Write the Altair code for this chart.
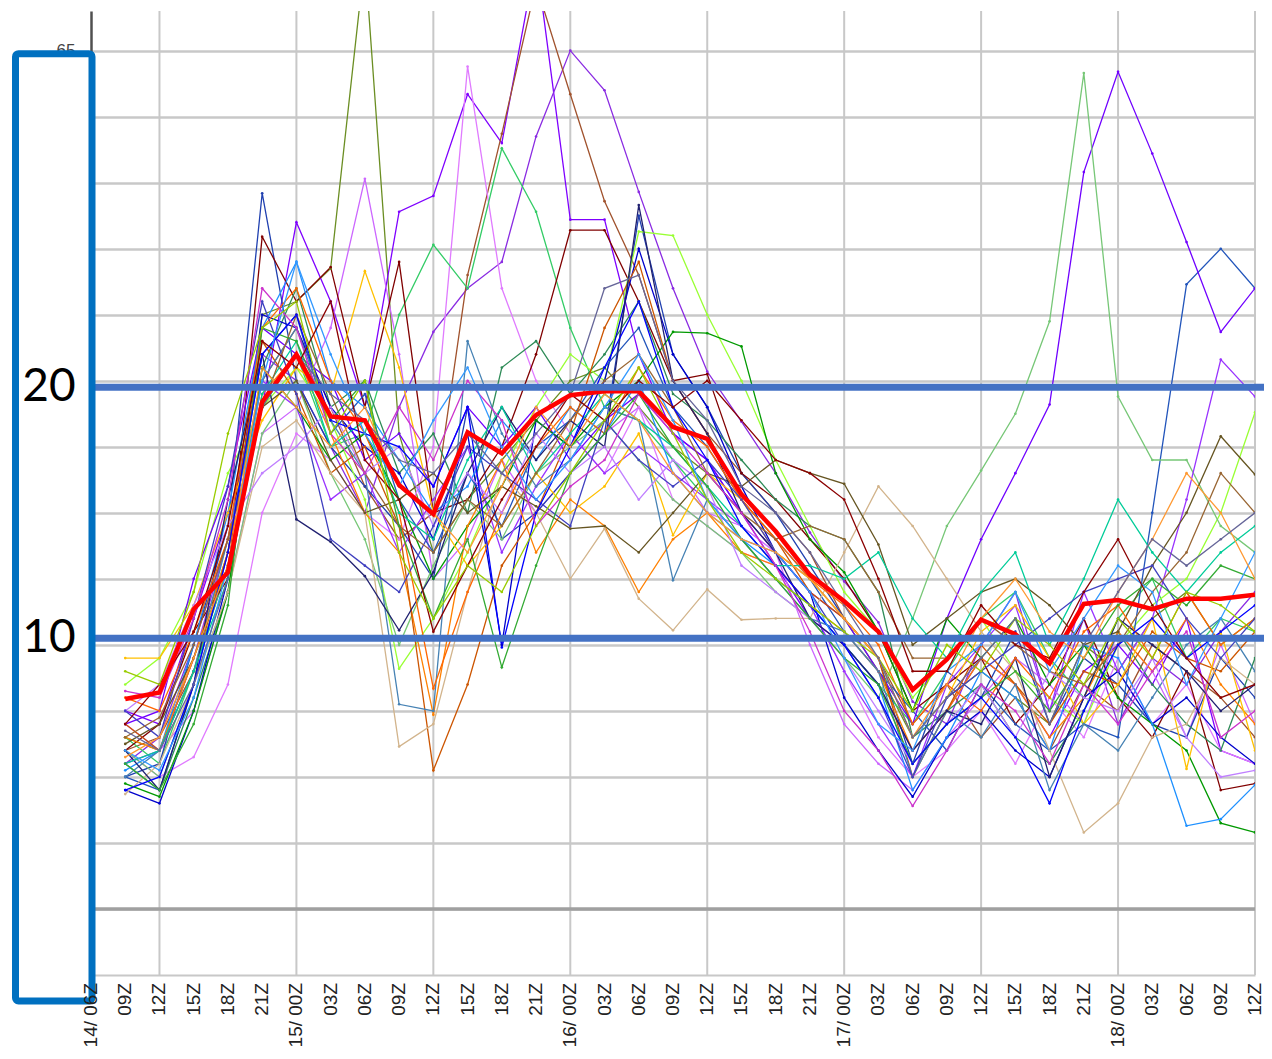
import altair as alt
import pandas as pd

# ---------------- axis / time data ----------------
tick_labels = ["14/ 06Z", "09Z", "12Z", "15Z", "18Z", "21Z",
               "15/ 00Z", "03Z", "06Z", "09Z", "12Z", "15Z", "18Z", "21Z",
               "16/ 00Z", "03Z", "06Z", "09Z", "12Z", "15Z", "18Z", "21Z",
               "17/ 00Z", "03Z", "06Z", "09Z", "12Z", "15Z", "18Z", "21Z",
               "18/ 00Z", "03Z", "06Z", "09Z", "12Z"]
tick_hours = list(range(0, 103, 3))          # hours after 14/06Z
data_hours = list(range(3, 103, 3))          # members start at 14/09Z
grid_hours = [6, 18, 30, 42, 54, 66, 78, 90, 102]
y_grid_values = [0, 5, 10, 15, 20, 25, 30, 35, 40, 45, 50, 55, 60, 65]

# annotation thresholds (drawn positions in chart units, knots) and their labels
threshold_kt = [39.5, 20.5]
threshold_text = ["20", "10"]

# ---------------- series (knots) ----------------
mean_kt = [15.9, 16.4, 22.7, 25.5, 38.4, 42.0, 37.3, 37.0, 32.1, 29.9, 36.1, 34.5, 37.4, 38.9, 39.2, 39.2, 36.5,
           35.6, 31.4, 28.6, 25.3, 23.3, 21.0, 16.6, 18.9, 21.9, 20.8, 18.6, 23.1, 23.4, 22.7, 23.5, 23.5, 23.8]

m01 = [13, 12, 19, 27, 45, 46, 48.5, 72, 36, 27, 31, 34, 37, 40, 41, 38, 35, 33, 30, 27, 25, 22, 18, 13, 16, 18, 16, 14, 20, 18, 22, 24, 20, 22]
m02 = [15, 14, 22, 30, 38, 52, 46, 38, 52.8, 54, 61.7, 58, 72, 52.2, 52.2, 42, 36, 34, 30, 26, 22, 20, 17, 12, 15, 19, 17, 13, 18, 20, 17, 22, 12, 11]
m03 = [11, 13, 20, 28, 42, 40, 35, 30, 38, 43.7, 47, 49, 58.5, 65, 62, 54.3, 47, 40.7, 36.9, 33, 28.5, 24.8, 21.7, 15.7, 14, 20, 24, 15, 22, 14, 19, 17, 21, 24]
m04 = [12, 13, 18, 26, 40, 44, 38, 32, 28, 30, 48, 58.7, 70, 61.7, 53.6, 48, 40, 36, 33, 30, 27, 22, 19, 14, 17, 13, 16, 12, 17, 15, 20, 18, 16, 13]
m05 = [14, 12, 15, 24, 36, 38, 44, 55.3, 42, 25, 28, 34, 30, 33, 36, 38, 34, 30, 29, 27, 20, 14, 11, 9, 13, 16, 19, 17, 14, 21, 18, 13, 20, 14]
m06 = [12, 10, 11.5, 17, 30, 36, 34, 30, 28, 35, 63.8, 47, 40, 36, 33, 38, 31, 29, 27, 26, 23, 18, 13, 10, 12, 15, 11, 16, 13, 19, 14, 17, 12, 11]
m07 = [13, 11, 18, 26, 38, 42, 35, 36, 45, 50.3, 47, 57.6, 52.8, 44, 38, 37, 34, 31, 28, 25, 23, 20, 17, 14, 18, 22, 24, 19, 16, 22, 25, 19, 22, 21]
m08 = [10, 11, 20, 29, 54.2, 40, 35, 32, 29, 25, 38, 28, 30, 33, 36, 52.5, 42, 38, 33, 30, 26, 22, 19, 11, 18, 16, 21, 14, 19, 17, 14, 13, 19, 16]
m09 = [12, 14, 21, 25, 50.9, 46, 48.6, 38, 49, 30, 31, 35, 42, 51.4, 51.4, 46, 40, 40.5, 33, 31, 28, 25, 21, 15, 17, 19, 14, 17, 22, 16, 13, 18, 9, 9.5]
m10 = [11, 9, 16, 24, 41, 47, 38, 40, 33, 36, 30, 41, 43, 39, 42, 46, 39, 37, 34, 31, 29, 28, 24, 13, 15, 17, 13, 11, 15, 21, 17, 14, 12, 19]
m11 = [17, 19, 24, 33, 38, 41, 37, 31, 18.2, 22, 27, 33, 38, 42, 40, 51.3, 51, 45, 40, 34, 29, 24, 21, 16, 19, 22, 18, 16, 14, 20, 23, 25, 30, 37.6]
m12 = [9, 8, 15, 25, 45, 44, 38, 35, 33, 28, 36, 20, 37, 35, 40, 50, 42, 38, 32, 27, 24, 16, 12, 8.5, 13, 15, 12, 10, 16, 18, 14, 16, 13, 11]
m13 = [10, 9, 17, 27, 42, 45, 36, 39, 31, 27, 33, 29, 35, 37, 41, 44, 38, 35, 31, 28, 25, 21, 18, 15, 12, 17, 14, 12, 14, 13, 30, 47.3, 50, 47]
m14 = [14, 15, 25, 32, 44, 42, 40, 34, 36, 32, 38, 35, 38, 34, 37, 39, 36, 34, 30, 27, 24, 22, 18, 14, 22, 28, 33, 38.2, 55.8, 63.4, 57.2, 50.5, 43.7, 47]
m15 = [12, 10, 17, 24, 36, 40, 33, 28, 20, 26, 31, 28, 33, 35, 37, 34, 31, 29, 27, 24, 22, 19, 16, 22, 29, 33.2, 37.5, 44.5, 63.3, 38.8, 34, 34, 29, 27]
m16 = [11, 12, 19, 28, 40, 38, 31, 33, 27, 31, 35, 27, 32, 36, 33, 35, 33, 31, 29, 26, 23, 18, 14, 10, 17, 20, 23, 15, 24, 18, 22, 31, 41.6, 38.8]
m17 = [9.5, 8.5, 15, 24, 41, 38, 34, 36, 31, 25, 29, 32, 37, 35, 38, 40, 43.7, 43.6, 42.6, 33, 28, 25.5, 21, 15, 22, 19, 22, 17, 20, 16, 14, 12, 6.5, 5.8]
m18 = [10.5, 12, 20, 30, 44, 49, 40, 38, 34, 30, 32, 37, 34, 38, 36, 40, 33, 30, 28, 26, 23, 20, 17, 9, 13, 18, 16, 12, 20, 19, 14, 6.3, 6.8, 9.4]
m19 = [13, 12, 19, 27, 39, 42, 36, 30, 27, 14.7, 29, 34, 27, 31, 29, 24, 28, 30, 27, 26, 23, 21, 18, 12, 15, 19, 17, 13, 16, 21, 18, 22, 17, 14]
m20 = [14, 12, 18, 27, 43, 39, 33, 35, 29, 10.5, 17, 26, 30, 36, 44, 49, 40, 36, 31, 28, 24, 22, 19, 10, 15, 20, 17, 14, 18, 17, 21, 19, 18, 21]
m21 = [19, 19, 23, 30, 37, 41, 39, 48.3, 41, 30, 26, 29, 33, 30, 32, 36, 28.3, 33, 31, 27, 25, 22, 19, 13, 16, 21, 23, 19, 14, 17, 22, 10.6, 21, 12]
m22 = [8.7, 11, 17, 24, 35, 37, 33, 30, 12.3, 14, 24, 33, 30, 25, 28.8, 23.5, 21.1, 24.2, 21.9, 22, 22, 27, 32, 29, 25, 21, 18, 12, 5.8, 8, 13, 14, 19, 17]
m23 = [10, 12, 18, 28, 40, 44, 37, 33, 15.5, 15, 43, 36, 32, 34, 38, 37, 24.9, 31, 28, 25, 22, 21, 18, 10, 15, 13, 17, 9, 14, 12, 16, 20, 22, 18]
m24 = [12.5, 14, 19, 26, 38, 40, 34, 30, 31, 33, 30, 32, 30.5, 28.8, 29, 27, 30, 33, 32, 34, 33, 32.2, 27.6, 20, 22, 24, 25, 23, 20, 21, 26, 30, 35.8, 32.9]
m25 = [12, 9, 17, 31, 42, 29.5, 27.8, 25.2, 21.1, 25.5, 33, 38, 34, 37, 35, 53.3, 40, 36, 30, 27, 22, 20, 17, 12, 15, 14, 19, 10, 16, 22, 20, 18, 15, 17]
m26 = [16, 15, 21, 28, 44, 47, 40, 36, 30, 16.7, 24, 30, 35, 38, 36, 41, 37, 35, 31, 28, 25, 23, 20, 14, 17, 15, 19, 16, 21, 23, 19, 24, 20, 22]
m27 = [15, 17, 23, 29, 33, 35, 38, 33, 35, 29, 33, 30, 36, 33, 35, 31, 34, 32, 26, 24, 22, 19, 15, 11, 14, 17, 13, 18, 16, 15, 19, 13, 10, 10.5]
m28 = [11, 12, 18, 25, 39, 43, 35, 37, 30, 28, 34, 38, 33, 36, 39, 37, 35, 32, 29, 26, 26, 25, 27, 22, 19, 24, 27, 20, 25, 31, 27, 24, 27, 29]
m29 = [15, 13, 22, 32, 46, 39, 28, 26, 24, 29, 35, 33, 31, 29, 37, 34, 32, 34, 31, 27, 24, 20, 16, 10, 16, 18, 20, 22, 24, 25, 26, 22, 19, 22]
m30 = [13, 14.5, 20, 28, 38, 45, 39, 33, 29, 27, 31, 29, 33, 37, 40, 42, 38, 33, 30, 28, 29, 28, 24, 19, 19, 22, 20, 18, 17, 20, 24, 27, 33, 30]
m31 = [11, 9, 14, 23, 44, 43, 37, 40, 29, 22, 28, 18.3, 26, 33, 36, 39, 35, 32, 28, 25, 22, 19, 17, 11, 14, 16, 18, 15, 19, 23, 25, 23, 26, 25]
m32 = [9, 10, 17, 27, 42, 45, 37, 36, 35, 32, 38, 19.8, 30, 35, 41, 46, 38, 34, 29, 26, 23, 20, 16, 11, 14, 16, 13, 8, 15, 20, 22, 19, 21, 23]
m33 = [16.5, 16, 22, 31, 47, 44, 36, 33, 38, 34, 40, 37, 29, 32, 34, 39, 36, 33, 30, 26, 21, 15, 12, 7.8, 12, 17, 15, 11, 17, 14, 18, 21, 13, 15]
m34 = [12, 10.5, 16, 26, 40, 49, 42, 36, 32, 37, 41, 35, 31, 34, 38, 42, 37, 31, 28, 27, 24, 19, 14, 12, 18, 20, 24, 18, 22, 26, 24, 17, 22, 27]
m35 = [14, 17, 21, 29, 43, 41, 46, 34, 31, 21, 26, 31, 35, 39, 37, 40, 38, 40, 37, 34, 33, 31, 25, 18, 18, 23, 20, 19, 24, 28, 23, 19, 16, 17]
m36 = [18, 17, 24, 36, 44, 46, 36, 40, 27, 22, 26, 24, 29, 33, 37, 41, 36, 31, 27, 25, 23, 21, 19, 15, 20, 18, 22, 20, 17, 22, 19, 24, 23, 21]
m37 = [11.5, 13, 19, 26, 41, 38, 35, 38, 32, 30, 27, 32, 38, 35, 39, 37, 33, 30, 28, 27, 25, 22, 19, 13, 17, 22, 25, 21, 19, 24, 28, 33, 30, 25]
m38 = [13.5, 12, 17, 25, 38, 42, 39, 37, 34, 33, 36, 33, 36, 39, 47, 48, 40, 37, 32, 30, 27, 23, 19, 13, 16, 19, 22, 14, 20, 24, 28, 26, 28, 30]

member_series = [m01, m02, m03, m04, m05, m06, m07, m08, m09, m10, m11, m12, m13, m14, m15, m16, m17, m18, m19,
                 m20, m21, m22, m23, m24, m25, m26, m27, m28, m29, m30, m31, m32, m33, m34, m35, m36, m37, m38]
member_colors = ["#6B8E23", "#7F00FF", "#8A2BE2", "#A0522D", "#CC66FF", "#E07BFF", "#33CC66", "#2040B0",
                 "#800000", "#2E8B57", "#99FF33", "#0000CC", "#2255BB", "#7000FF", "#77C777", "#9933FF",
                 "#009900", "#1E90FF", "#FF8000", "#CC5500", "#FFC000", "#D2B48C", "#4682B4", "#665522",
                 "#202070", "#FF6600", "#C080FF", "#00CC99", "#4040C0", "#996633", "#33AA33", "#0000FF",
                 "#CC33CC", "#3399FF", "#8B0000", "#99CC00", "#FF9933", "#666699"]
member_names = [f"m{i + 1:02d}" for i in range(len(member_series))]

for s in member_series:
    assert len(s) == len(data_hours), len(s)
assert len(mean_kt) == len(data_hours)

rows = []
for name, vals in zip(member_names, member_series):
    for h, v in zip(data_hours, vals):
        rows.append({"member": name, "h": h, "v": v})
members_df = pd.DataFrame(rows)
mean_df = pd.DataFrame({"h": data_hours, "v": mean_kt})
vgrid_df = pd.DataFrame({"h": grid_hours})
zero_df = pd.DataFrame({"v": [0]})
thr_df = pd.DataFrame({"v": threshold_kt, "t": threshold_text})
xlab_df = pd.DataFrame({"h": tick_hours, "t": tick_labels})
one_df = pd.DataFrame({"k": [0]})

x_enc = alt.X("h:Q",
              scale=alt.Scale(domain=[0, 102], nice=False, zero=False),
              axis=alt.Axis(values=tick_hours, labels=False, ticks=False, grid=False,
                            domainColor="#C8C8C8", domainWidth=2, title=None))
y_enc = alt.Y("v:Q",
              scale=alt.Scale(domain=[-5, 68], nice=False, zero=False),
              axis=alt.Axis(values=y_grid_values, grid=True, gridColor="#C8C8C8", gridWidth=2.5,
                            ticks=False, labelFontSize=17, labelFont="Liberation Sans",
                            labelExpr="datum.value == 65 ? '65' : ''",
                            labelColor="#444444", labelPadding=16, domainColor="#505050",
                            domainWidth=2.5, title=None))

vgrid = alt.Chart(vgrid_df).mark_rule(color="#C8C8C8", strokeWidth=2).encode(x="h:Q")
zero_line = alt.Chart(zero_df).mark_rule(color="#A0A0A0", strokeWidth=3.5).encode(y="v:Q")

members = alt.Chart(members_df).mark_line(
    strokeWidth=1.3, clip=True,
    point=alt.OverlayMarkDef(size=7, filled=True, clip=True)
).encode(
    x=x_enc, y=y_enc,
    color=alt.Color("member:N", scale=alt.Scale(domain=member_names, range=member_colors), legend=None),
)

mean_line = alt.Chart(mean_df).mark_line(color="#FF0000", strokeWidth=4.5, clip=True).encode(
    x="h:Q", y="v:Q")

thr_rules = alt.Chart(thr_df).mark_rule(color="#4472C4", strokeWidth=7).encode(
    y="v:Q", x=alt.value(1), x2=alt.value(1177))

box = alt.Chart(one_df).mark_rect(fill="white", stroke="#0070C0", strokeWidth=7, cornerRadius=3).encode(
    x=alt.value(-75.5), x2=alt.value(1), y=alt.value(42.7), y2=alt.value(990))

thr_text = alt.Chart(thr_df).mark_text(font="Lato", fontSize=46, color="black", align="center",
                                       baseline="middle").encode(
    y="v:Q", x=alt.value(-42), text="t:N")

x_labels = alt.Chart(xlab_df).mark_text(angle=270, align="right", baseline="middle", fontSize=19,
                                        font="Liberation Sans", color="#222222").encode(
    x="h:Q", y=alt.value(972), text="t:N")

chart = alt.layer(vgrid, zero_line, members, mean_line, thr_rules, box, thr_text, x_labels).properties(
    width=1164, height=964,
    autosize=alt.AutoSizeParams(type="none"),
    padding={"left": 83, "top": 3, "right": 9, "bottom": 76},
    background="white",
).configure_view(stroke=None)

chart.save("out.html", embed_options={"renderer": "svg", "actions": False})
